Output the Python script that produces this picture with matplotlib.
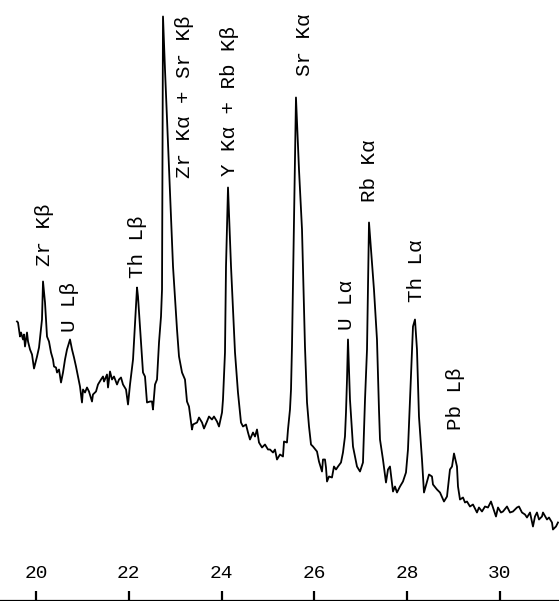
#!/usr/bin/env python3
import matplotlib
matplotlib.use("Agg")
import matplotlib.pyplot as plt

# X-ray fluorescence scan (2-theta in degrees, counts in arbitrary units)
two_theta = [
    19.590, 19.612, 19.655, 19.677, 19.720, 19.741, 19.763, 19.806, 19.828, 19.871,
    19.914, 19.957, 20.022, 20.065, 20.129, 20.151, 20.194, 20.237, 20.280, 20.323,
    20.366, 20.388, 20.431, 20.453, 20.496, 20.539, 20.582, 20.625, 20.668, 20.733,
    20.776, 20.819, 20.862, 20.905, 20.948, 20.991, 21.013, 21.056, 21.099, 21.142,
    21.207, 21.228, 21.293, 21.336, 21.401, 21.444, 21.466, 21.530, 21.552, 21.595,
    21.638, 21.681, 21.746, 21.789, 21.832, 21.875, 21.940, 21.983, 22.026, 22.091,
    22.134, 22.177, 22.198, 22.263, 22.306, 22.349, 22.392, 22.457, 22.500, 22.521,
    22.565, 22.608, 22.651, 22.694, 22.716, 22.737, 22.780, 22.953, 23.039, 23.082,
    23.147, 23.211, 23.254, 23.297, 23.362, 23.384, 23.470, 23.513, 23.578, 23.621,
    23.685, 23.728, 23.793, 23.836, 23.901, 23.944, 24.009, 24.030, 24.073, 24.095,
    24.138, 24.203, 24.289, 24.353, 24.418, 24.461, 24.526, 24.569, 24.612, 24.677,
    24.720, 24.763, 24.806, 24.871, 24.935, 25.000, 25.043, 25.108, 25.151, 25.194,
    25.259, 25.323, 25.345, 25.409, 25.431, 25.474, 25.496, 25.517, 25.603, 25.668,
    25.733, 25.797, 25.841, 25.884, 25.927, 25.970, 26.056, 26.099, 26.164, 26.185,
    26.228, 26.250, 26.272, 26.315, 26.379, 26.422, 26.466, 26.509, 26.573, 26.616,
    26.659, 26.681, 26.703, 26.724, 26.767, 26.832, 26.918, 26.983, 27.047, 27.069,
    27.091, 27.134, 27.155, 27.177, 27.284, 27.349, 27.392, 27.414, 27.478, 27.543,
    27.586, 27.629, 27.672, 27.694, 27.737, 27.780, 27.845, 27.909, 27.974, 28.017,
    28.060, 28.103, 28.125, 28.168, 28.211, 28.254, 28.319, 28.362, 28.427, 28.470,
    28.534, 28.556, 28.642, 28.707, 28.793, 28.858, 28.922, 28.966, 29.009, 29.073,
    29.095, 29.138, 29.203, 29.246, 29.289, 29.353, 29.418, 29.504, 29.547, 29.612,
    29.677, 29.741, 29.806, 29.849, 29.914, 29.957, 30.022, 30.065, 30.151, 30.216,
    30.280, 30.366, 30.409, 30.474, 30.539, 30.582, 30.647, 30.711, 30.754, 30.797,
    30.841, 30.905, 30.927, 31.013, 31.056, 31.121, 31.142, 31.207, 31.250,
]
counts = [
    278, 277, 263, 267, 260, 265, 253, 267, 258, 250,
    245, 231, 243, 252, 280, 318, 297, 263, 258, 247,
    240, 233, 232, 227, 230, 217, 227, 240, 250, 260,
    250, 242, 233, 223, 213, 197, 210, 207, 212, 208,
    198, 205, 208, 215, 220, 223, 218, 225, 212, 228,
    220, 223, 215, 220, 222, 215, 210, 195, 215, 240,
    277, 312, 303, 257, 227, 223, 197, 198, 198, 190,
    215, 220, 257, 283, 310, 583, 530, 333, 270, 243,
    227, 220, 198, 193, 170, 175, 177, 182, 177, 171,
    178, 183, 180, 183, 178, 173, 187, 200, 247, 333,
    412, 333, 247, 207, 177, 173, 175, 167, 160, 167,
    163, 170, 157, 152, 155, 150, 150, 147, 150, 140,
    145, 143, 158, 157, 170, 190, 210, 253, 502, 430,
    370, 253, 197, 173, 155, 153, 148, 138, 128, 140,
    140, 132, 118, 123, 122, 133, 130, 133, 137, 147,
    163, 187, 220, 260, 200, 153, 133, 128, 137, 167,
    200, 250, 310, 377, 310, 260, 190, 160, 140, 117,
    130, 133, 117, 108, 113, 107, 113, 118, 127, 150,
    200, 250, 273, 280, 250, 183, 140, 107, 118, 125,
    123, 115, 110, 107, 98, 103, 130, 133, 146, 133,
    113, 100, 102, 97, 98, 93, 95, 87, 92, 88,
    93, 92, 98, 92, 83, 92, 87, 88, 93, 87,
    88, 92, 93, 87, 85, 82, 87, 73, 83, 87,
    80, 83, 87, 80, 82, 77, 70, 73, 77,
]

tick_pos = [20, 22, 24, 26, 28, 30]

peak_names = ["Zr K\u03b2", "U L\u03b2", "Th L\u03b2", "Zr K\u03b1 + Sr K\u03b2",
              "Y K\u03b1 + Rb K\u03b2", "Sr K\u03b1", "U L\u03b1", "Rb K\u03b1",
              "Th L\u03b1", "Pb L\u03b2"]
peak_pos = [20.19, 20.73, 22.18, 23.19, 24.16, 25.78, 26.70, 27.18, 28.19, 29.05]
label_base = [333, 268, 322, 422, 423, 523, 270, 397, 297, 170]


def main():
    fig = plt.figure(figsize=(5.59, 6.01), dpi=100)
    ax = fig.add_axes([0, 0, 1, 1])

    ax.plot(two_theta, counts, color="black", lw=1.3)

    for name, x, y in zip(peak_names, peak_pos, label_base):
        ax.text(x, y, name, rotation=90, ha="center", va="bottom",
                family="Liberation Mono", fontsize=15)

    ax.set_xlim(19.224, 31.272)
    ax.set_ylim(-1.5, 599.5)
    ax.set_xticks(tick_pos)
    ax.set_xticklabels([str(t) for t in tick_pos], family="Liberation Mono",
                       fontsize=14)
    ax.tick_params(axis="x", direction="in", length=7.5, width=1.6, pad=-26)
    ax.set_yticks([])
    for side in ("top", "left", "right"):
        ax.spines[side].set_visible(False)
    ax.spines["bottom"].set_linewidth(1.6)
    ax.patch.set_visible(False)

    fig.savefig("out.png", dpi=100)


if __name__ == "__main__":
    main()
